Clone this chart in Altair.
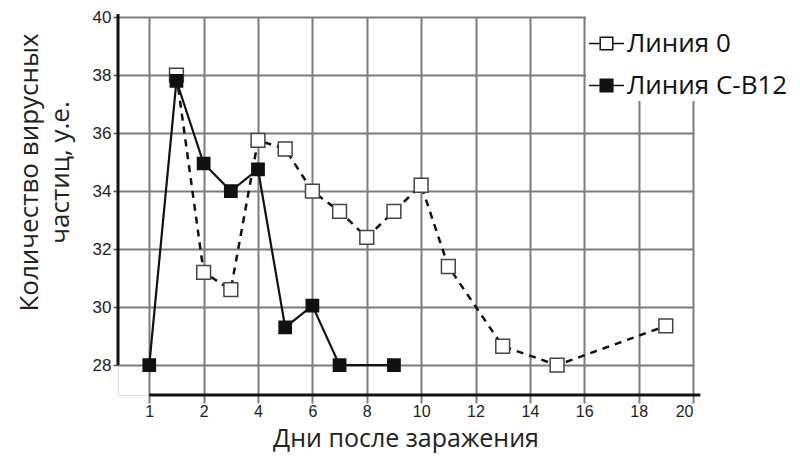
import altair as alt
import pandas as pd

# ---- data ----
days_line0 = [1, 2, 3, 4, 5, 6, 7, 8, 9, 10, 11, 13, 15, 19]
vals_line0 = [38.0, 31.2, 30.6, 35.75, 35.45, 34.0, 33.3, 32.4, 33.3, 34.2, 31.4, 28.65, 28.0, 29.35]
days_cb12 = [0, 1, 2, 3, 4, 5, 6, 7, 9]
vals_cb12 = [28.0, 37.8, 34.95, 34.0, 34.75, 29.3, 30.05, 28.0, 28.0]
series_names = ["Линия 0", "Линия C-B12"]
x_ticks = [0, 2, 4, 6, 8, 10, 12, 14, 16, 18, 20]
y_ticks = [28, 30, 32, 34, 36, 38, 40]

df = pd.concat([
    pd.DataFrame({"day": days_line0, "value": vals_line0, "series": series_names[0]}),
    pd.DataFrame({"day": days_cb12, "value": vals_cb12, "series": series_names[1]}),
], ignore_index=True)

X_DOM = [-1.15, 20]
Y_DOM = [26.97, 40.0]

FONT_T = "Open Sans"
FONT_L = "Liberation Sans"
GRID = "#7c7c7c"

xs = alt.Scale(domain=X_DOM, nice=False, zero=False)
ys = alt.Scale(domain=Y_DOM, nice=False, zero=False)

x_axis = alt.Axis(
    values=x_ticks, labelExpr="datum.value == 0 ? '1' : datum.label",
    grid=True, gridColor=GRID, gridWidth=2,
    ticks=True, tickColor=GRID, tickWidth=2, tickSize=8,
    domain=False, labelFont=FONT_L, labelFontSize=16, labelColor="#222",
    labelPadding=0,
    title="Дни после заражения", titleFont=FONT_T, titleFontSize=25,
    titleFontWeight="normal", titleColor="#222",
    titleBaseline="alphabetic", titleY=51,
)
y_axis = alt.Axis(
    values=y_ticks, grid=True, gridColor=GRID, gridWidth=2,
    ticks=True, tickColor="#555", tickWidth=1.5, tickSize=5,
    domain=False, labelFont=FONT_L, labelFontSize=17, labelColor="#222",
    labelPadding=2,
    title=["Количество вирусных", "частиц, у.е."], titleFont=FONT_T,
    titleFontSize=26, titleFontWeight="normal", titleColor="#222",
    titleAngle=270, titleAlign="center", titleBaseline="top",
    titleX=-102, titleY=155, titleLineHeight=31,
)

legend_symbol = "M-1,0H-0.36M0.36,0H1M-0.36,-0.36H0.36V0.36H-0.36Z"
legend = alt.Legend(
    orient="none", legendX=468, legendY=-9, direction="vertical",
    title=" ", titleFontSize=8, titlePadding=7,
    fillColor="white", padding=2,
    symbolType=legend_symbol, symbolSize=1225,
    symbolStrokeColor="#111", symbolStrokeWidth=1.5,
    labelFont=FONT_T, labelFontSize=26, labelColor="#111",
    labelOffset=2, rowPadding=10, labelLimit=300,
)
fill_scale = alt.Scale(domain=series_names, range=["white", "#111"])

base = alt.Chart(df)
X = alt.X("day:Q", scale=xs, axis=x_axis)
Y = alt.Y("value:Q", scale=ys, axis=y_axis)

line0 = base.transform_filter(alt.datum.series == series_names[0]).mark_line(
    color="#111", strokeDash=[7, 6], strokeWidth=2.5
).encode(x=X, y=Y, order="day:Q")

line_b = base.transform_filter(alt.datum.series == series_names[1]).mark_line(
    color="#111", strokeWidth=2.2
).encode(x=X, y=Y, order="day:Q")

pts0 = base.transform_filter(alt.datum.series == series_names[0]).mark_point(
    shape="square", filled=True, opacity=1, stroke="#444", strokeWidth=1.5, size=190
).encode(x=X, y=Y, fill=alt.Fill("series:N", scale=fill_scale, legend=legend))

pts_b = base.transform_filter(alt.datum.series == series_names[1]).mark_point(
    shape="square", filled=True, opacity=1, stroke="#111", strokeWidth=1.5, size=150
).encode(x=X, y=Y, fill=alt.Fill("series:N", scale=fill_scale, legend=legend))

axis_lines = pd.DataFrame({
    "x": [X_DOM[0], 0.0], "x2": [X_DOM[0], 20.27],
    "y": [28.0, Y_DOM[0]], "y2": [40.1, Y_DOM[0]],
})
frame = alt.Chart(axis_lines).mark_rule(color="#111", strokeWidth=3).encode(
    x=alt.X("x:Q", scale=xs), x2="x2:Q",
    y=alt.Y("y:Q", scale=ys), y2="y2:Q",
)

chart = alt.layer(line0, line_b, frame, pts0, pts_b).properties(
    width=575, height=378,
    padding={"left": 110, "top": 9, "right": 99, "bottom": 58},
    autosize=alt.AutoSizeParams(type="none"),
).configure_view(stroke=None).configure(background="white")

chart.save("out.html", embed_options={"renderer": "svg", "actions": False})
